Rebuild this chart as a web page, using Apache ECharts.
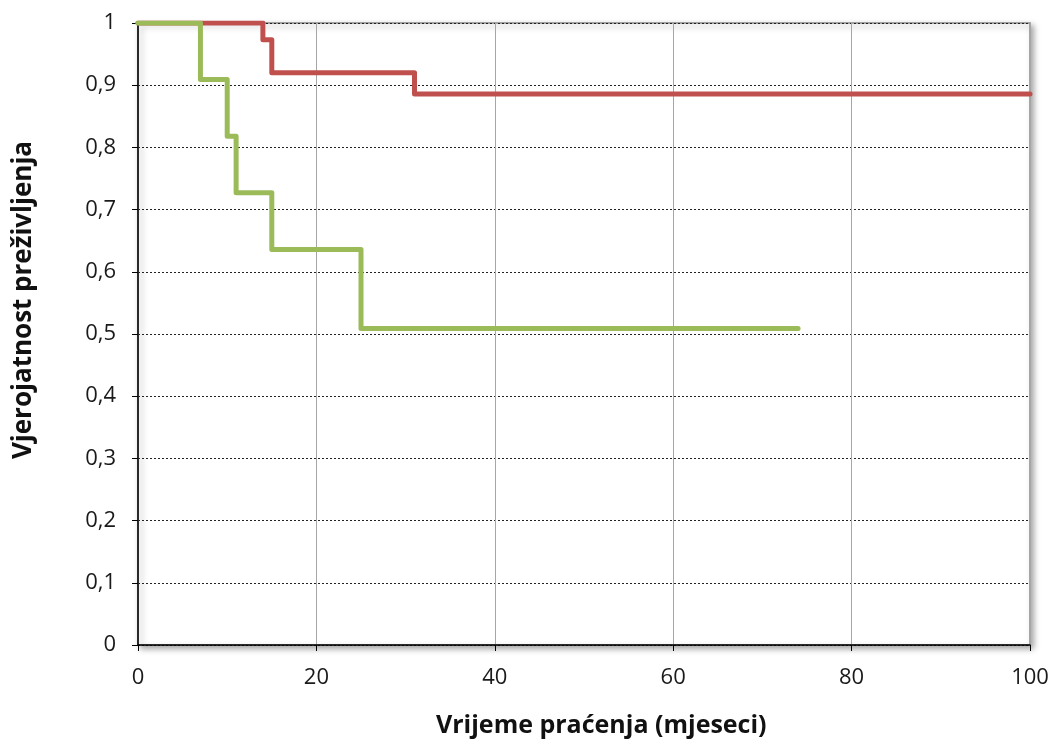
<!DOCTYPE html>
<html>
<head>
<meta charset="utf-8">
<script src="https://cdn.jsdelivr.net/npm/echarts@6/dist/echarts.min.js"></script>
<style>html,body{margin:0;padding:0;background:#fff;}#c{width:1055px;height:751px;}</style>
</head>
<body>
<div id="c"></div>
<script>
// Data (months, survival probability)
const redTimes = [0, 14, 15, 31, 100];
const redValues = [1, 0.973, 0.92, 0.886, 0.886];
const greenTimes = [0, 7, 10, 11, 15, 25, 74];
const greenValues = [1, 0.909, 0.818, 0.727, 0.636, 0.509, 0.509];
const xTicks = [0, 20, 40, 60, 80, 100];
const yTitle = 'Vjerojatnost preživljenja';
const xTitle = 'Vrijeme praćenja (mjeseci)';

const pairs = (t, v) => t.map((x, i) => [x, v[i]]);
const font = '"Open Sans", "Liberation Sans", sans-serif';

const chart = echarts.init(document.getElementById('c'), null, {renderer: 'canvas'});
chart.setOption({
  animation: false,
  backgroundColor: '#ffffff',
  grid: {
    left: 138, right: 25, top: 23, bottom: 106,
    show: true, backgroundColor: '#ffffff',
    borderColor: '#8c8c8c', borderWidth: 1.5,
    shadowColor: 'rgba(0,0,0,0.35)', shadowBlur: 6, shadowOffsetX: 3, shadowOffsetY: 3
  },
  xAxis: {
    type: 'value', min: 0, max: 100, interval: 20,
    axisLine: {show: true, onZero: false, lineStyle: {color: '#000', width: 1.5}},
    axisTick: {show: true, inside: false, length: 6, lineStyle: {color: '#000'}},
    axisLabel: {margin: 22, color: '#1a1a1a', fontSize: 22, fontFamily: font,
      formatter: v => xTicks.includes(v) ? String(v) : ''},
    splitLine: {show: true, lineStyle: {color: '#a6a6a6', width: 1, type: 'solid'}}
  },
  yAxis: {
    type: 'value', min: 0, max: 1, interval: 0.1,
    axisLine: {show: true, onZero: false, lineStyle: {color: '#000', width: 1.5}},
    axisTick: {show: true, inside: false, length: 6, lineStyle: {color: '#000'}},
    axisLabel: {margin: 22, color: '#1a1a1a', fontSize: 22, fontFamily: font,
      formatter: v => {
        const r = Math.round(v * 10) / 10;
        if (r === 0) return '0';
        if (r === 1) return '1';
        return r.toFixed(1).replace('.', ',');
      }},
    splitLine: {show: true, lineStyle: {color: '#222', width: 1, type: [2, 2]}}
  },
  graphic: [
    {type: 'text', left: 436, top: 713,
      style: {text: xTitle, font: 'bold 25px ' + font, fill: '#111'}},
    {type: 'text', x: 11, y: 300, rotation: Math.PI / 2,
      style: {text: yTitle, font: 'bold 26px ' + font, fill: '#111', align: 'center', verticalAlign: 'top'}}
  ],
  series: [
    {type: 'line', step: 'end', data: pairs(redTimes, redValues), symbol: 'none',
      lineStyle: {color: '#C0504D', width: 5, join: 'round', cap: 'round'}, z: 3},
    {type: 'line', step: 'end', data: pairs(greenTimes, greenValues), symbol: 'none',
      lineStyle: {color: '#9BBB59', width: 5, join: 'round', cap: 'round'}, z: 4}
  ]
});
</script>
</body>
</html>
